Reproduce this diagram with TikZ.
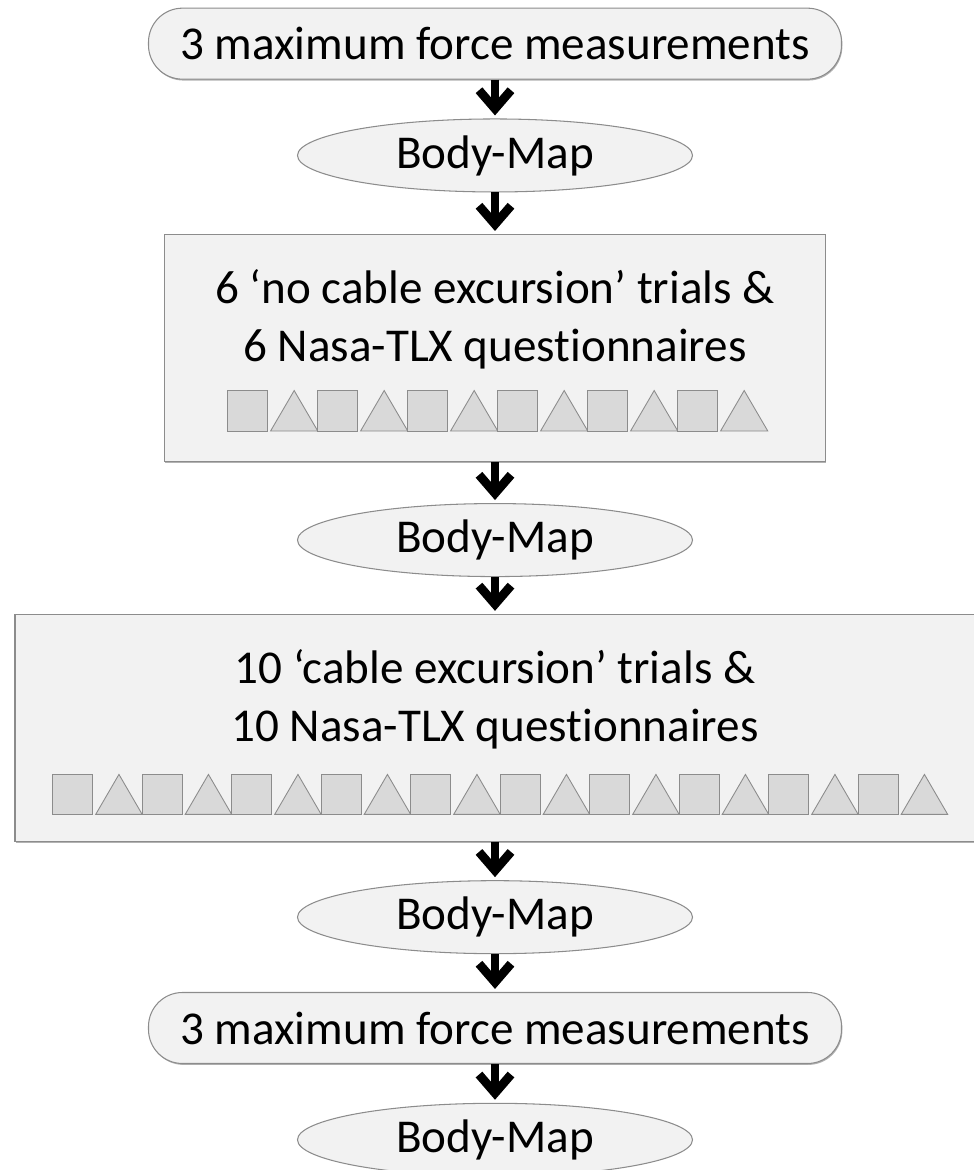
\documentclass[tikz,border=0pt]{standalone}
\usepackage{fontspec}
\setmainfont{Carlito}[Ligatures=NoCommon]
\usepackage{tikz}
\usetikzlibrary{shapes.geometric, arrows.meta, positioning, calc, shadows}
\definecolor{boxfill}{HTML}{F2F2F2}
\definecolor{boxline}{HTML}{8C8C8C}
\definecolor{shapefill}{HTML}{D9D9D9}
\tikzstyle{measure} = [rectangle, rounded corners=0.68cm, minimum width=13.86cm, minimum height=1.42cm, text centered, draw=boxline, fill=boxfill, line width=0.6pt, drop shadow={shadow xshift=0.5pt, shadow yshift=-0.8pt, fill=black!30, opacity=1}]
\tikzstyle{bodymap} = [ellipse, minimum width=7.9cm, minimum height=1.46cm, inner sep=0pt, text centered, draw=boxline, fill=boxfill, line width=0.6pt]
\tikzstyle{block} = [rectangle, minimum height=4.54cm, draw=boxline, fill=boxfill, line width=0.6pt, drop shadow={shadow xshift=0.5pt, shadow yshift=-0.8pt, fill=black!30, opacity=1}]
\tikzstyle{blocktext} = [text width=18cm, align=flush center, anchor=base, inner sep=0pt]
\tikzstyle{trial} = [draw=boxline, fill=shapefill, line width=0.5pt]
\tikzstyle{arrow} = [line width=5pt, -{Straight Barb[length=3.7mm, width=6.4mm]}, shorten >=0.06cm,
    preaction={draw=black!15, transform canvas={xshift=1.6pt, yshift=-1.2pt}}]

\begin{document}
\begin{tikzpicture}[node distance=0.775cm, font=\fontsize{26.8}{32.7}\selectfont]
    \useasboundingbox (0,0) rectangle (19.48,-23.4);
    % Nodes
    \node (fmax1) [measure] at (9.9,-0.873) {3 maximum force measurements};
    \node (bm1) [bodymap, below=of fmax1] {Body-Map};
    \node (box1) [block, minimum width=13.22cm, below=0.83cm of bm1] {};
    \node (bm2) [bodymap, below=0.82cm of box1] {Body-Map};
    \node (box2) [block, minimum width=19.2cm, below=0.735cm of bm2] {};
    \node (bm3) [bodymap, below=0.765cm of box2] {Body-Map};
    \node (fmax2) [measure, below=0.755cm of bm3] {3 maximum force measurements};
    \node (bm4) [bodymap, below=of fmax2] {Body-Map};

    % Block texts
    \node (text1) [blocktext] at ($(box1.north)+(0,-1.394)$) {6 ‘no cable excursion’ trials \&\\6 Nasa-TLX questionnaires};
    \node (text2) [blocktext] at ($(box2.north)+(0,-1.394)$) {10 ‘cable excursion’ trials \&\\10 Nasa-TLX questionnaires};

    % Trials and questionnaires
    \foreach \i in {0,...,5} {
        \draw [trial] ($(box1.south)+(-5.344+1.8*\i,0.62)$) rectangle ++(0.8,0.81);
        \draw [trial] ($(box1.south)+(-5.344+1.8*\i+0.855,0.62)$) -- ++(0.945,0) -- ++(-0.4725,0.81) -- cycle;
    }
    \foreach \i in {0,...,9} {
        \draw [trial] ($(box2.south)+(-8.846+1.79*\i,0.55)$) rectangle ++(0.8,0.8);
        \draw [trial] ($(box2.south)+(-8.846+1.79*\i+0.86,0.55)$) -- ++(0.93,0) -- ++(-0.465,0.8) -- cycle;
    }

    % Arrows
    \draw [arrow] (fmax1) -- (bm1);
    \draw [arrow] (bm1) -- (box1);
    \draw [arrow] (box1) -- (bm2);
    \draw [arrow] (bm2) -- (box2);
    \draw [arrow] (box2) -- (bm3);
    \draw [arrow] (bm3) -- (fmax2);
    \draw [arrow] (fmax2) -- (bm4);
\end{tikzpicture}
\end{document}
